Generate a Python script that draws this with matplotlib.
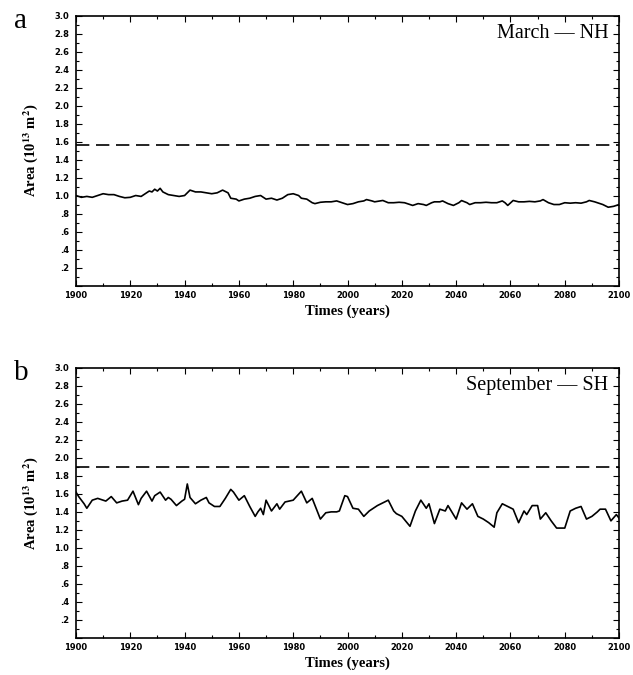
import numpy as np
import matplotlib
matplotlib.use("Agg")
import matplotlib.pyplot as plt
from matplotlib.ticker import MultipleLocator, FuncFormatter

plt.rcParams["mathtext.fontset"] = "stix"

# March NH (panel a)
years_nh = [1900, 1902, 1904, 1906, 1908, 1910, 1912, 1914, 1916, 1918, 1920, 1922,
            1924, 1926, 1927, 1928, 1929, 1930, 1931, 1932, 1934, 1936, 1938, 1940,
            1942, 1944, 1946, 1948, 1950, 1952, 1954, 1956, 1957, 1959, 1960, 1962,
            1964, 1966, 1968, 1970, 1972, 1974, 1976, 1978, 1980, 1982, 1983, 1985,
            1987, 1988, 1990, 1992, 1994, 1996, 1998, 2000, 2002, 2004, 2006, 2007,
            2009, 2010, 2012, 2013, 2015, 2017, 2019, 2021, 2023, 2024, 2026, 2028,
            2029, 2031, 2032, 2034, 2035, 2037, 2039, 2041, 2042, 2044, 2045, 2047,
            2049, 2051, 2053, 2055, 2057, 2058, 2059, 2061, 2063, 2065, 2067, 2069,
            2071, 2072, 2074, 2076, 2078, 2080, 2082, 2084, 2086, 2088, 2089, 2091,
            2093, 2094, 2096, 2098, 2100]
area_nh = [1.00, 0.98, 0.99, 0.98, 1.00, 1.02, 1.01, 1.01, 0.99, 0.975, 0.98, 1.00,
           0.99, 1.03, 1.05, 1.04, 1.07, 1.05, 1.08, 1.04, 1.01, 1.00, 0.99, 1.00,
           1.06, 1.04, 1.04, 1.03, 1.02, 1.03, 1.06, 1.03, 0.97, 0.96, 0.94, 0.96,
           0.97, 0.99, 1.00, 0.96, 0.97, 0.95, 0.97, 1.01, 1.02, 1.00, 0.97, 0.96,
           0.92, 0.91, 0.925, 0.93, 0.93, 0.94, 0.92, 0.90, 0.91, 0.93, 0.94, 0.955,
           0.94, 0.93, 0.94, 0.945, 0.92, 0.92, 0.925, 0.92, 0.90, 0.89, 0.91, 0.90,
           0.89, 0.92, 0.93, 0.93, 0.94, 0.91, 0.89, 0.92, 0.944, 0.92, 0.90, 0.92,
           0.92, 0.925, 0.92, 0.92, 0.94, 0.92, 0.89, 0.945, 0.93, 0.93, 0.935, 0.93,
           0.94, 0.955, 0.92, 0.90, 0.90, 0.92, 0.915, 0.92, 0.915, 0.93, 0.945, 0.93,
           0.91, 0.90, 0.87, 0.88, 0.90]

# September SH (panel b)
years_sh = [1900, 1901, 1903, 1904, 1906, 1908, 1911, 1913, 1915, 1917, 1919, 1921,
            1923, 1924, 1926, 1928, 1929, 1931, 1933, 1934, 1935, 1937, 1939, 1940,
            1941, 1942, 1944, 1946, 1948, 1949, 1951, 1953, 1955, 1957, 1958, 1960,
            1962, 1964, 1966, 1967, 1968, 1969, 1970, 1972, 1974, 1975, 1977, 1980,
            1983, 1985, 1987, 1990, 1992, 1994, 1996, 1997, 1999, 2000, 2002, 2004,
            2006, 2008, 2011, 2013, 2015, 2017, 2018, 2020, 2023, 2025, 2027, 2029,
            2030, 2032, 2034, 2036, 2037, 2040, 2042, 2044, 2046, 2048, 2050, 2052,
            2054, 2055, 2057, 2059, 2061, 2063, 2065, 2066, 2068, 2070, 2071, 2073,
            2075, 2077, 2080, 2082, 2084, 2086, 2088, 2090, 2092, 2093, 2095, 2097,
            2099, 2100]
area_sh = [1.62, 1.57, 1.49, 1.44, 1.53, 1.55, 1.52, 1.57, 1.50, 1.52, 1.53, 1.63,
           1.48, 1.55, 1.63, 1.52, 1.58, 1.62, 1.53, 1.56, 1.54, 1.47, 1.52, 1.54,
           1.71, 1.56, 1.49, 1.53, 1.56, 1.50, 1.46, 1.46, 1.55, 1.65, 1.62, 1.53,
           1.58, 1.46, 1.35, 1.40, 1.44, 1.37, 1.53, 1.41, 1.49, 1.43, 1.51, 1.53,
           1.63, 1.50, 1.55, 1.32, 1.39, 1.40, 1.40, 1.41, 1.58, 1.57, 1.44, 1.43,
           1.35, 1.41, 1.47, 1.50, 1.53, 1.41, 1.38, 1.35, 1.24, 1.41, 1.53, 1.44,
           1.49, 1.27, 1.43, 1.41, 1.47, 1.32, 1.50, 1.43, 1.49, 1.35, 1.32, 1.28,
           1.23, 1.39, 1.49, 1.46, 1.43, 1.28, 1.41, 1.37, 1.47, 1.47, 1.32, 1.39,
           1.30, 1.22, 1.22, 1.41, 1.44, 1.46, 1.32, 1.35, 1.40, 1.43, 1.43, 1.30,
           1.37, 1.33]

ref_nh = 1.56
ref_sh = 1.90

panels = [
    ("a", "March \u2014 NH", years_nh, area_nh, ref_nh),
    ("b", "September \u2014 SH", years_sh, area_sh, ref_sh),
]

fig = plt.figure(figsize=(6.33, 6.75), dpi=100)
ax_a = fig.add_axes([0.120, 0.577, 0.858, 0.400])
ax_b = fig.add_axes([0.120, 0.055, 0.858, 0.400])


def ytick_fmt(v, pos):
    if v < 0.05:
        return ""
    s = "%.1f" % v
    return s[1:] if s.startswith("0") else s


for ax, (letter, title, yrs, vals, ref) in zip([ax_a, ax_b], panels):
    ax.plot(yrs, vals, color="black", lw=1.2)
    ax.axhline(ref, color="black", lw=1.2, dashes=(8, 4))

    ax.set_xlim(1900, 2100)
    ax.set_ylim(0, 3.0)
    ax.xaxis.set_major_locator(MultipleLocator(20))
    ax.xaxis.set_minor_locator(MultipleLocator(10))
    ax.yaxis.set_major_locator(MultipleLocator(0.2))
    ax.yaxis.set_minor_locator(MultipleLocator(0.1))
    ax.yaxis.set_major_formatter(FuncFormatter(ytick_fmt))
    ax.tick_params(which="both", direction="in", top=True, right=True, width=0.8)
    ax.tick_params(which="major", length=4, labelsize=6)
    ax.tick_params(which="minor", length=2.5)
    ax.tick_params(axis="x", pad=4)
    ax.tick_params(axis="y", pad=5)
    for lab in ax.get_xticklabels() + ax.get_yticklabels():
        lab.set_fontweight("bold")
    for sp in ax.spines.values():
        sp.set_linewidth(1.2)

    ax.set_xlabel("Times (years)", family="Liberation Serif", fontweight="bold",
                  fontsize=10.5, labelpad=3)
    ax.set_ylabel(r"Area (10$^{\mathbf{13}}$ m$^{\mathbf{2}}$)", family="Liberation Serif",
                  fontweight="bold", fontsize=10.5, labelpad=10)
    ax.text(0.98, 0.935, title, transform=ax.transAxes, ha="right", va="center",
            family="Liberation Serif", fontsize=14.5)
    ax.text(-0.115, 0.98, letter, transform=ax.transAxes, ha="left", va="center",
            family="Liberation Serif", fontsize=21)

fig.savefig("out.png", dpi=100)
